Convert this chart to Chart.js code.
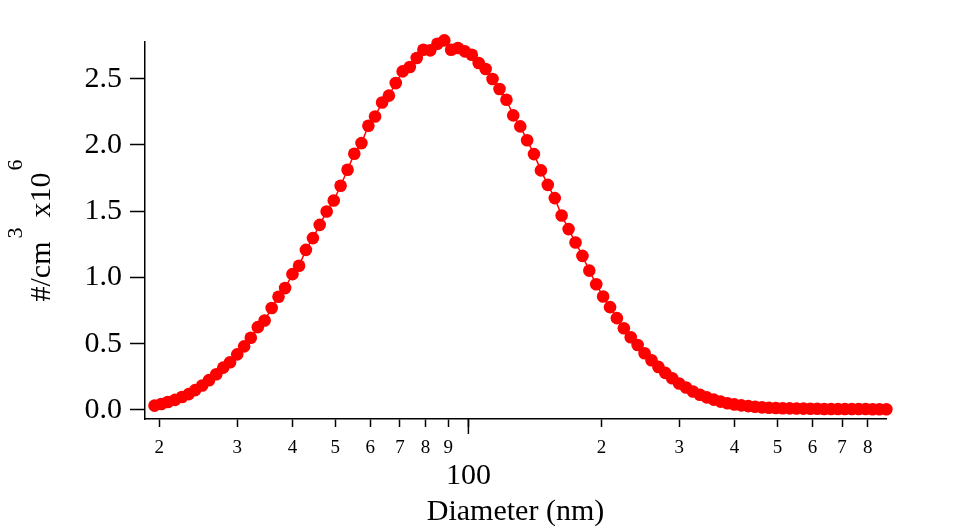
<!DOCTYPE html>
<html>
<head>
<meta charset="utf-8">
<script src="https://cdn.jsdelivr.net/npm/chart.js@4"></script>
<style>
  body { margin: 0; background: #fff; }
  #wrap { width: 957px; height: 532px; }
</style>
</head>
<body>
<div id="wrap"><canvas id="sizeChart" width="957" height="532"></canvas></div>
<script>
var diameters = [19.5, 20.2, 20.9, 21.7, 22.5, 23.3, 24.1, 25.0, 25.9, 26.9,
  27.9, 28.9, 30.0, 31.1, 32.2, 33.4, 34.6, 35.9, 37.2, 38.5,
  40.0, 41.4, 42.9, 44.5, 46.1, 47.8, 49.6, 51.4, 53.3, 55.2,
  57.3, 59.4, 61.5, 63.8, 66.1, 68.5, 71.0, 73.7, 76.4, 79.1,
  82.0, 85.1, 88.2, 91.4, 94.7, 98.2, 101.8, 105.5, 109.4, 113.4,
  117.6, 121.9, 126.3, 131.0, 135.8, 140.7, 145.9, 151.2, 156.8, 162.5,
  168.5, 174.7, 181.1, 187.7, 194.6, 201.7, 209.1, 216.7, 224.7, 232.9,
  241.4, 250.3, 259.5, 269.0, 278.8, 289.0, 299.6, 310.6, 322.0, 333.8,
  346.0, 358.7, 371.8, 385.4, 399.5, 414.2, 429.4, 445.1, 461.4, 478.3,
  495.8, 514.0, 532.8, 552.3, 572.5, 593.5, 615.3, 637.8, 661.2, 685.4,
  710.5, 736.5, 763.5, 791.5, 820.5, 850.5, 881.7]

// number concentration, #/cm3 x10^6
var conc = [0.033, 0.045, 0.060, 0.076, 0.098, 0.120, 0.150, 0.185, 0.225, 0.270,
  0.320, 0.360, 0.420, 0.480, 0.545, 0.625, 0.675, 0.770, 0.855, 0.920,
  1.025, 1.088, 1.208, 1.297, 1.397, 1.498, 1.581, 1.692, 1.813, 1.934,
  2.014, 2.145, 2.215, 2.321, 2.372, 2.467, 2.555, 2.588, 2.656, 2.719,
  2.714, 2.764, 2.789, 2.719, 2.732, 2.706, 2.681, 2.619, 2.573, 2.498,
  2.422, 2.341, 2.223, 2.140, 2.035, 1.931, 1.808, 1.699, 1.599, 1.468,
  1.365, 1.264, 1.163, 1.052, 0.949, 0.856, 0.776, 0.693, 0.617, 0.549,
  0.491, 0.428, 0.375, 0.325, 0.280, 0.240, 0.200, 0.170, 0.140, 0.115,
  0.095, 0.078, 0.063, 0.051, 0.042, 0.035, 0.029, 0.024, 0.020, 0.017,
  0.015, 0.013, 0.012, 0.011, 0.010, 0.009, 0.009, 0.008, 0.008, 0.008,
  0.007, 0.007, 0.007, 0.007, 0.006, 0.006, 0.006]

var xTicks = [20, 30, 40, 50, 60, 70, 80, 90, 100, 200, 300, 400, 500, 600, 700, 800]
var yTicks = [0, 0.5, 1.0, 1.5, 2.0, 2.5]

var serif = '"Liberation Serif", "Times New Roman", serif'

var points = diameters.map(function(d, i) { return {x: d, y: conc[i]} })

// longer tick at the decade + y title with raised exponents
var extras = {
  id: 'extras',
  afterDraw: function(chart) {
    var ctx = chart.ctx
    var xs = chart.scales.x
    var px = xs.getPixelForValue(100)
    ctx.save()
    ctx.strokeStyle = '#000'
    ctx.lineWidth = 1.5
    ctx.beginPath()
    ctx.moveTo(px, xs.top)
    ctx.lineTo(px, xs.top + 15)
    ctx.stroke()

    var parts = [
      {t: '#/cm', size: 30, rise: 0, gap: 3},
      {t: '3', size: 22, rise: -28, gap: 10},
      {t: 'x10', size: 30, rise: 0, gap: 2},
      {t: '6', size: 22, rise: -28, gap: 0}
    ]
    var total = 0
    parts.forEach(function(p) {
      ctx.font = p.size + 'px ' + serif
      p.w = ctx.measureText(p.t).width
      total += p.w + p.gap
    })
    var area = chart.chartArea
    var cy = (area.top + area.bottom) / 2
    ctx.translate(50, cy)
    ctx.rotate(-Math.PI / 2)
    ctx.fillStyle = '#000'
    ctx.textBaseline = 'alphabetic'
    ctx.textAlign = 'left'
    var pos = -total / 2
    parts.forEach(function(p) {
      ctx.font = p.size + 'px ' + serif
      ctx.fillText(p.t, pos, p.rise)
      pos += p.w + p.gap
    })
    ctx.restore()
  }
}

var ctx = document.getElementById('sizeChart').getContext('2d')

var chart = new Chart(ctx, {
  type: 'line',
  data: {
    datasets: [{
      data: points,
      borderColor: 'rgb(255, 0, 0)',
      backgroundColor: 'rgb(255, 0, 0)',
      borderWidth: 1.5,
      pointRadius: 6.3,
      pointBorderWidth: 0,
      pointBackgroundColor: 'rgb(255, 0, 0)',
      tension: 0,
      clip: false
    }]
  },
  options: {
    responsive: false,
    animation: false,
    layout: { padding: { top: 42, right: 71, left: 0, bottom: 0 } },
    plugins: {
      legend: { display: false },
      tooltip: { enabled: false }
    },
    scales: {
      x: {
        type: 'logarithmic',
        min: 18.56,
        max: 880,
        afterBuildTicks: function(scale) {
          scale.ticks = xTicks.map(function(v) { return {value: v} })
        },
        afterFit: function(scale) { scale.height = 113 },
        border: { display: true, color: '#000', width: 1.5 },
        grid: { drawOnChartArea: false, tickLength: 8, tickColor: '#000', tickWidth: 1.5 },
        ticks: {
          autoSkip: false,
          maxRotation: 0,
          padding: 10,
          color: '#000',
          font: function(c) {
            if (c.tick && c.tick.value === 100) return {family: serif, size: 30, lineHeight: 0.87}
            return {family: serif, size: 19}
          },
          callback: function(v) {
            if (v === 100) return ['', '100']
            var s = String(v)
            return s.charAt(0)
          }
        },
        title: {
          display: true,
          text: 'Diameter (nm)',
          color: '#000',
          font: { family: serif, size: 30 },
          padding: { top: 0, bottom: 2 }
        }
      },
      y: {
        min: -0.068,
        max: 2.777,
        afterBuildTicks: function(scale) {
          scale.ticks = yTicks.map(function(v) { return {value: v} })
        },
        afterFit: function(scale) { scale.width = 145 },
        border: { display: true, color: '#000', width: 1.5 },
        grid: { drawOnChartArea: false, tickLength: 15, tickColor: '#000', tickWidth: 1.5 },
        ticks: {
          padding: 8,
          color: '#000',
          font: { family: serif, size: 30 },
          callback: function(v) { return v.toFixed(1) }
        }
      }
    }
  },
  plugins: [extras]
})
</script>
</body>
</html>
